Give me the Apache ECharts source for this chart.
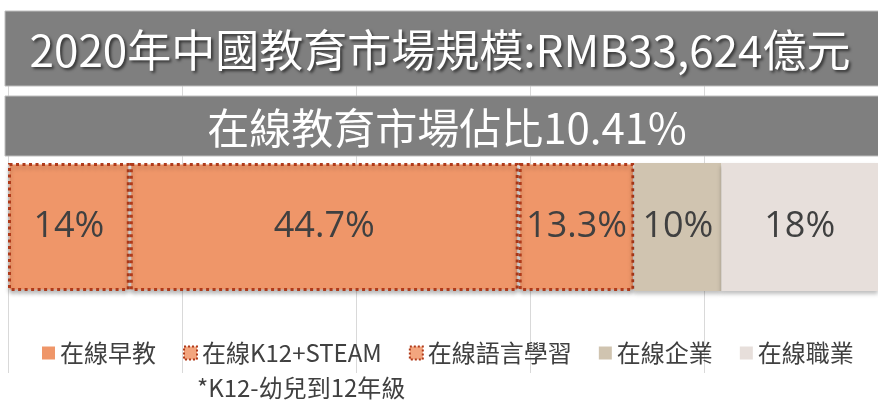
<!DOCTYPE html>
<html>
<head>
<meta charset="utf-8">
<script src="https://cdn.jsdelivr.net/npm/echarts@6/dist/echarts.min.js"></script>
<style>
  html, body { margin: 0; padding: 0; background: #fff; }
  #main { width: 878px; height: 401px; }
</style>
</head>
<body>
<div id="main"></div>
<script>
// 市場細分
const seriesNames = ['在線早教', '在線K12+STEAM', '在線語言學習', '在線企業', '在線職業']
const shareValues = [14, 44.7, 13.3, 10, 18]
const seriesColors = ['#EF9669', '#EF9669', '#EF9669', '#D0C4B0', '#E7DFDB']
const dottedBorder = [true, true, true, false, false]
const titleText = '2020年中國教育市場規模:RMB33,624億元'
const subTitleText = '在線教育市場佔比10.41%'
const noteText = '*K12-幼兒到12年級'

const myChart = echarts.init(document.getElementById('main'), null, { renderer: 'canvas' })

const borderStyle = {
    borderColor: '#B03A1A',
    borderWidth: 3,
    borderType: [3, 3.5]
}

const series = seriesNames.map(function (name, i) {
    const item = { value: shareValues[i] }
    // 第一段只在柱子上加虛線框, 圖例不加
    if (i === 0) {
        item.itemStyle = Object.assign({ color: seriesColors[i] }, borderStyle)
    }
    const itemStyle = { color: seriesColors[i], shadowColor: 'rgba(0,0,0,0.25)', shadowBlur: 4, shadowOffsetY: 3 }
    if (dottedBorder[i] && i > 0) {
        Object.assign(itemStyle, borderStyle)
    }
    return {
        name: name,
        type: 'bar',
        stack: 'total',
        xAxisIndex: 1,
        yAxisIndex: 1,
        barWidth: '100%',
        itemStyle: itemStyle,
        label: {
            show: true,
            position: 'inside',
            formatter: '{c}%',
            fontSize: 36,
            color: '#404040',
            fontFamily: 'Open Sans'
        },
        data: [item]
    }
})

const legendData = seriesNames.map(function (name, i) {
    if (dottedBorder[i] && i > 0) {
        return {
            name: name,
            itemStyle: { color: '#F3A57E', borderColor: '#B03A1A', borderWidth: 2, borderType: [2, 2] }
        }
    }
    return { name: name }
})

const option = {
    animation: false,
    backgroundColor: '#fff',
    grid: [
        { left: 8, top: 11, width: 875, height: 362 },
        { left: 8, top: 163, width: 875, height: 128 }
    ],
    xAxis: [
        {
            gridIndex: 0, type: 'value', min: 0, max: 100, interval: 20,
            axisLine: { show: false }, axisTick: { show: false }, axisLabel: { show: false },
            splitLine: { show: true, lineStyle: { color: '#D9D9D9', width: 1 } }
        },
        { gridIndex: 1, type: 'value', min: 0, max: 100, show: false }
    ],
    yAxis: [
        { gridIndex: 0, type: 'category', data: [''], show: false },
        { gridIndex: 1, type: 'category', data: [''], show: false }
    ],
    legend: {
        left: 37,
        top: 336,
        itemWidth: 13,
        itemHeight: 13,
        itemGap: 27,
        icon: 'rect',
        textStyle: { fontSize: 24, color: '#404040', fontFamily: 'Noto Sans CJK TC' },
        data: legendData
    },
    graphic: [
        {
            type: 'rect', z: 10,
            shape: { x: 5, y: 11, width: 900, height: 75 },
            style: { fill: '#7F7F7F', stroke: '#BFBFBF', lineWidth: 1 }
        },
        {
            type: 'rect', z: 10,
            shape: { x: 5, y: 96, width: 900, height: 60 },
            style: { fill: '#7F7F7F', stroke: '#BFBFBF', lineWidth: 1 }
        },
        {
            type: 'text', z: 11, x: 440, y: 50,
            style: {
                text: titleText, fill: '#fff', fontSize: 44, fontFamily: 'Noto Sans CJK TC',
                align: 'center', verticalAlign: 'middle',
                textShadowColor: 'rgba(0,0,0,0.6)', textShadowBlur: 3, textShadowOffsetX: 2, textShadowOffsetY: 2
            }
        },
        {
            type: 'text', z: 11, x: 447, y: 128,
            style: {
                text: subTitleText, fill: '#fff', fontSize: 42, fontFamily: 'Noto Sans CJK TC',
                align: 'center', verticalAlign: 'middle'
            }
        },
        {
            type: 'text', z: 11, x: 197, y: 388,
            style: {
                text: noteText, fill: '#404040', fontSize: 24, fontFamily: 'Noto Sans CJK TC',
                align: 'left', verticalAlign: 'middle'
            }
        }
    ],
    series: series
}

myChart.setOption(option)
</script>
</body>
</html>
